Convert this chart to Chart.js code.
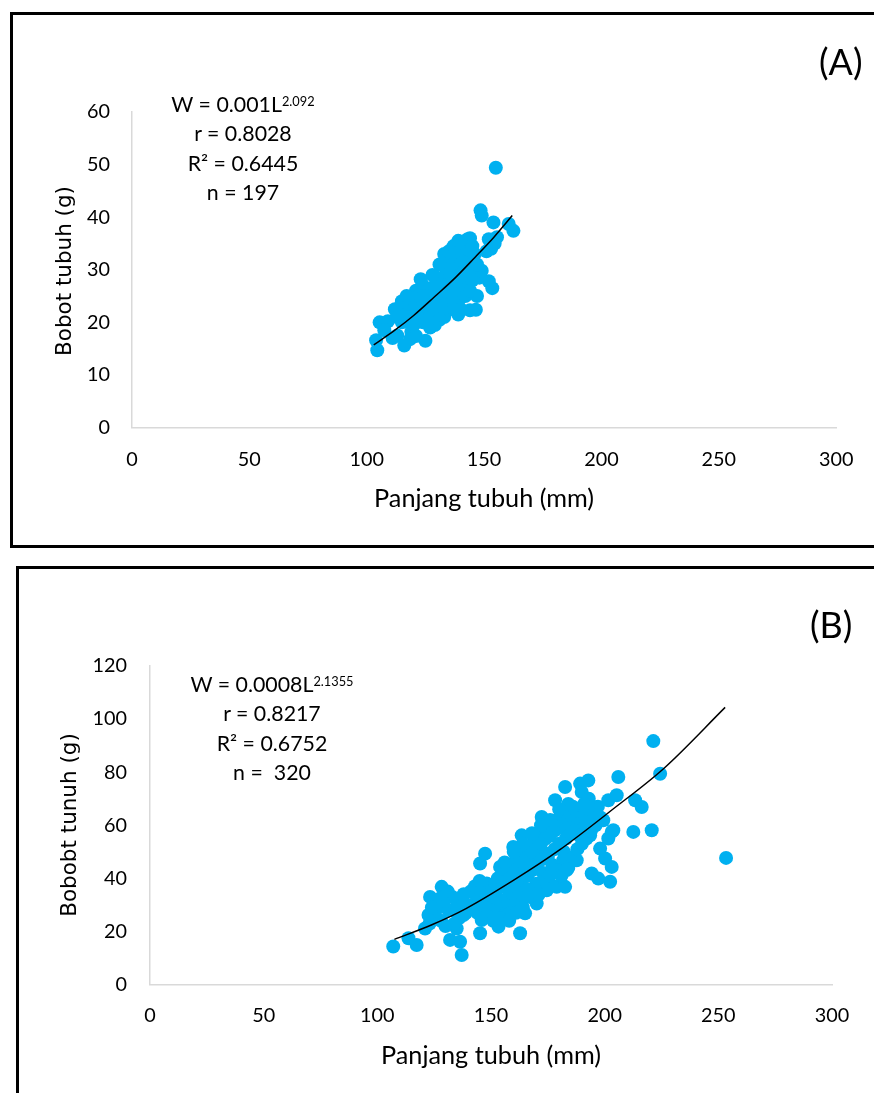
<!DOCTYPE html>
<html>
<head>
<meta charset="utf-8">
<script src="https://cdn.jsdelivr.net/npm/chart.js@4.4.1/dist/chart.umd.min.js"></script>
<style>
    body { margin: 0; width: 874px; height: 1093px; overflow: hidden; background: #fff; position: relative; font-family: Lato, sans-serif; }
    .box { position: absolute; border: 3px solid #000; box-sizing: border-box; }
    canvas.plot { position: absolute; left: 0; }
    .note { position: absolute; width: 220px; text-align: center; font-size: 22px; line-height: 29.3px; color: #000; white-space: nowrap; }
    .note sup { font-size: 0.6em; vertical-align: 0.45em; line-height: 0; }
    .tag { position: absolute; font-size: 31px; line-height: 36px; color: #000; }
    .ytitle { position: absolute; width: 240px; height: 24px; line-height: 24px; text-align: center;
              font-family: "DejaVu Sans", sans-serif; font-size: 21px; color: #000;
              transform: rotate(-90deg); white-space: nowrap; }
</style>
</head>
<body>

<div class="box" style="left:10px; top:12px; width:900px; height:536px;"></div>
<div class="box" style="left:16px; top:566px; width:900px; height:560px;"></div>

<canvas id="chartA" class="plot" width="874" height="546" style="top:0;"></canvas>
<canvas id="chartB" class="plot" width="874" height="543" style="top:550px;"></canvas>

<div class="ytitle" style="left:-56.5px; top:258.5px;">Bobot tubuh (g)</div>
<div class="ytitle" style="left:-51px; top:813px;">Bobobt tunuh (g)</div>

<div class="note" style="left:133px; top:90px;">
    W = 0.001L<sup>2.092</sup><br>r = 0.8028<br>R² = 0.6445<br>n = 197
</div>
<div class="note" style="left:162px; top:670px;">
    W = 0.0008L<sup>2.1355</sup><br>r = 0.8217<br>R² = 0.6752<br>n =&nbsp; 320
</div>
<div class="tag" id="tagA" style="left:819px; top:44px;">(A)</div>
<div class="tag" id="tagB" style="left:810px; top:607px;">(B)</div>

<script>
// =========================
// DATA - panel A
// =========================
const lengthA = [
    155, 148.5, 149, 154, 160.5, 162.5, 155.5, 154.5, 153, 152, 151,
    152, 153.5, 147, 146.5, 144, 149, 148,
    104, 104.5, 105.5, 109, 107.5, 111, 113, 116, 118.5, 119, 125, 121,
    112, 114, 116, 113, 115, 117, 119, 120, 121, 122, 123, 124, 126, 125, 127, 128,
    126, 128, 130, 131, 129, 127, 124, 122, 120, 118, 133, 135, 136, 138, 139, 140,
    141, 142, 140, 139, 138, 140, 141, 143, 144, 145, 146, 144, 143, 146, 147, 137,
    136, 135, 134, 133, 132, 131, 134, 136, 137, 138, 130, 131, 133, 135, 137, 139,
    142, 141, 129, 128, 130, 132, 126, 129, 124, 122, 120, 118, 115, 117, 140, 142,
    144, 145, 139, 137
];
const weightA = [
    49.4, 41.3, 40.3, 39, 38.7, 37.4, 36.2, 35, 34, 35.8, 33.5,
    27.8, 26.5, 25, 22.4, 22.3, 29.8, 28.5,
    16.6, 14.7, 20, 20.2, 18.5, 17, 17.5, 15.6, 16.8, 18.2, 16.5, 17.4,
    22.5, 22.8, 23.3, 21, 20, 21.5, 22, 24.5, 26, 25, 28.2, 27, 26, 23.5, 24.2, 25.5,
    22, 21, 22.5, 20.5, 19.5, 19, 20, 21, 19.5, 20.3, 21, 22.5, 24, 25.5, 24, 26.5,
    27.5, 29, 30.5, 32, 33.5, 35, 34, 35.8, 36, 34.5, 33, 31.5, 30, 30, 31, 29,
    31, 32.3, 30, 28, 26.5, 25, 26, 27.5, 26, 28, 28.5, 31, 33, 33.5, 34.5, 35.5,
    33, 31.5, 27, 29, 24, 23, 20.5, 23.5, 25, 23, 22.5, 23.5, 24, 25, 22.5, 25,
    26, 28, 21.5, 22.5
];
const curveLenA = [103, 112, 120, 129, 138, 146, 154, 162];
const curveWtA  = [15.7, 18.5, 21.3, 24.9, 28.6, 32.3, 36.1, 40.3];
const yMaxA = 60, yStepA = 10;

// =========================
// DATA - panel B
// =========================
const lengthB = [
    107, 113.7, 117.3, 121, 122.5, 123.2, 128.3, 127.6, 131.3, 133.5, 132, 136.4, 137.1,
    134.9, 137.9, 143, 143.7, 145.2, 145.9, 147.4, 145.2, 148.1, 152.5, 153.3, 154, 154,
    157, 159.8, 163.5, 162.8, 165, 163.5, 165.7, 168.6, 170.1, 172.3, 172.3, 174.5, 174.5,
    178.2, 178.9, 182.6, 181.8, 182.6, 183.3, 184, 187.7, 189.2, 189.9, 192.8, 194.3,
    197.2, 202.4, 195, 193.6, 198, 200.2, 203.1, 201.6, 203.1, 201.6, 205.3, 206, 213.4,
    216.3, 212.6, 220.7, 221.4, 224.4, 253.4, 203.8, 199.4,
    147, 149, 150, 152, 153, 155, 156, 157, 158, 159, 160, 161, 162, 163, 164, 165, 166,
    167, 168, 169, 170, 171, 172, 173, 174, 175, 176, 177, 178, 179, 180, 181, 182, 183,
    184, 185, 186, 187, 188, 189, 190, 191, 192, 193, 186, 184, 180, 176, 172, 168, 164,
    160, 156, 158, 161, 163, 166, 168, 170, 172, 175, 178, 180, 183, 185, 187, 189, 182,
    177, 173, 170, 166, 162, 160, 157, 155, 152, 150, 148, 146, 144, 142, 140, 139, 137,
    135, 133, 131, 129, 127, 125, 123, 128, 130, 126, 124, 141, 143, 145, 138, 136, 134,
    148, 151, 154, 158, 161, 164, 167, 171, 174, 176, 179, 181, 184, 186, 188, 190, 192,
    194, 196, 198, 195, 197, 193, 191
];
const weightB = [
    14.3, 17.4, 14.9, 21.1, 26.2, 33, 36.8, 32.4, 28, 28, 16.8, 16.1, 11.1,
    21.1, 26.2, 34.3, 31.2, 19.3, 24.3, 49.3, 45.6, 38.1, 33, 21.8, 28, 44.3,
    38.1, 51.8, 56.2, 19.3, 26.8, 31.8, 44.3, 46.8, 30.5, 63.1, 58.1, 35.5, 49.3,
    69.4, 36.8, 36.8, 46.8, 74.4, 43.1, 67.5, 46.8, 75.7, 72.5, 76.9, 41.8,
    39.9, 38.7, 66.9, 56.2, 51.2, 47.5, 44.3, 55, 57.5, 69.4, 71.3, 78.2, 69.4,
    66.9, 57.5, 58.1, 91.7, 79.4, 47.7, 58.1, 61.9,
    36, 37.5, 35, 38, 40, 37, 41, 43, 40, 45, 42, 47, 44, 49, 46, 50, 48,
    52, 50, 54, 51, 56, 53, 57, 55, 59, 56, 60, 58, 62, 59, 63, 61, 65,
    62, 64, 60, 66, 63, 65, 61, 64, 60, 62, 67, 68, 66, 62, 60, 57, 53,
    50, 46, 34, 37, 39, 41, 43, 45, 47, 48, 51, 53, 55, 57, 58, 56, 50,
    45, 42, 38, 36, 33, 30, 28, 31, 30, 28, 32, 30, 27, 29, 30, 27, 31,
    30, 33, 35, 31, 29, 25, 23, 24, 22, 30, 29, 35, 37, 39, 34, 25, 23,
    26, 24, 25, 24, 27, 29, 33, 34, 39, 41, 43, 41, 44, 48, 51, 53, 55,
    58, 60, 63, 65, 67, 70, 68
];
const curveLenB = [107.5, 124, 139, 160, 180, 204, 226, 253];
const curveWtB  = [17, 22.5, 28.6, 39.3, 50.6, 66.3, 81.4, 104.4];
const yMaxB = 120, yStepB = 20;

const xMax = 300, xStep = 50;
const xTitle = 'Panjang tubuh (mm)';

// =========================
// FONT SIZES (fit to the widths seen in the picture)
// =========================
const measureCtx = document.createElement('canvas').getContext('2d');
function fitSize(text, family, width) {
    measureCtx.font = '100px ' + family;
    return 100 * width / measureCtx.measureText(text).width;
}

const tickSize   = fitSize('300', 'Lato', 34.5);
const xTitleSize = fitSize(xTitle, 'Lato', 220);
const yTitleSize = fitSize('Bobot tubuh (g)', '"DejaVu Sans"', 170);
const noteSize   = fitSize('r = 0.8028', 'Lato', 98);
const tagSize    = fitSize('(A)', 'Lato', 43.5);

document.querySelectorAll('.ytitle').forEach(el => el.style.fontSize = yTitleSize + 'px');
document.querySelectorAll('.note').forEach(el => el.style.fontSize = noteSize + 'px');
document.querySelectorAll('.tag').forEach(el => el.style.fontSize = tagSize + 'px');

// =========================
// HELPERS
// =========================
function toPoints(xs, ys) {
    return xs.map((x, i) => ({ x: x, y: ys[i] }));
}

function makeChart(id, pts, curve, yMax, yStep, lay) {
    new Chart(document.getElementById(id), {
        type: 'scatter',
        data: {
            datasets: [
                {
                    data: curve,
                    showLine: true,
                    borderColor: '#000',
                    borderWidth: 1.5,
                    pointRadius: 0,
                    tension: 0.4,
                    cubicInterpolationMode: 'monotone',
                    fill: false
                },
                {
                    data: pts,
                    pointRadius: 7,
                    pointHoverRadius: 7,
                    backgroundColor: '#00B0F0',
                    borderWidth: 0
                }
            ]
        },
        options: {
            responsive: false,
            animation: false,
            events: [],
            layout: { padding: { top: lay.top, right: lay.right, left: 0, bottom: 0 } },
            plugins: { legend: { display: false }, tooltip: { enabled: false } },
            scales: {
                x: {
                    type: 'linear', min: 0, max: xMax,
                    ticks: { stepSize: xStep, padding: lay.xTickMid - 0.6 * tickSize, maxRotation: 0,
                             color: '#000', font: { family: 'Lato', size: tickSize } },
                    grid: { drawOnChartArea: false, drawTicks: false },
                    border: { color: '#d9d9d9', width: 1.5 },
                    title: { display: true, text: xTitle, color: '#000',
                             font: { family: 'Lato', size: xTitleSize },
                             padding: { top: 0, bottom: lay.xTitleMid - 0.6 * xTitleSize } },
                    afterFit: s => { s.height = lay.xHeight; }
                },
                y: {
                    type: 'linear', min: 0, max: yMax,
                    ticks: { stepSize: yStep, padding: lay.yPad, color: '#000',
                             font: { family: 'Lato', size: tickSize } },
                    grid: { drawOnChartArea: false, drawTicks: false },
                    border: { color: '#d9d9d9', width: 1.5 },
                    afterFit: s => { s.width = lay.yWidth; }
                }
            }
        }
    });
}

// =========================
// CHARTS
// =========================
makeChart('chartA', toPoints(lengthA, weightA), toPoints(curveLenA, curveWtA),
    yMaxA, yStepA,
    { top: 112, right: 35, xHeight: 118.5, yWidth: 132, xTickMid: 32.5, yPad: 22, xTitleMid: 47 });

makeChart('chartB', toPoints(lengthB, weightB), toPoints(curveLenB, curveWtB),
    yMaxB, yStepB,
    { top: 116, right: 42, xHeight: 108.5, yWidth: 150, xTickMid: 31.2, yPad: 23, xTitleMid: 37.5 });
</script>
</body>
</html>
